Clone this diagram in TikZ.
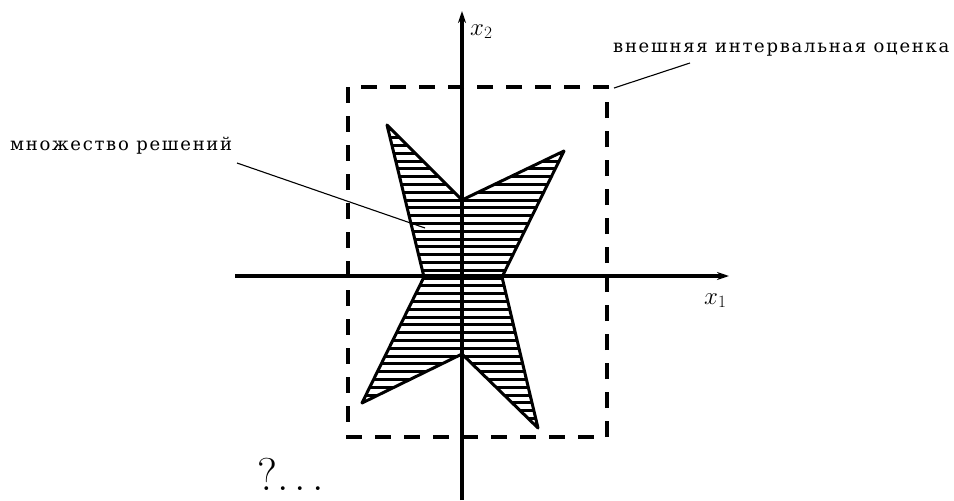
\documentclass[tikz,border=0pt]{standalone}
\usepackage{fontspec}
\newfontfamily\cyr[LetterSpace=9.5]{DejaVu Serif}
\usetikzlibrary{arrows.meta}
\begin{document}
\begin{tikzpicture}[x=1pt,y=-1pt,
  axisline/.style={line width=3.2pt,-{Stealth[length=12pt,width=8pt]}},
  boxline/.style={line width=3.2pt,dash pattern=on 16pt off 13pt},
  outline/.style={line width=3pt,line join=round},
  hatchline/.style={line width=3pt},
  leader/.style={line width=1.1pt},
  cyrlabel/.style={font=\cyr\fontsize{18}{22}\selectfont,inner sep=0pt,anchor=base west},
  mathlabel/.style={font=\fontsize{24}{28}\selectfont,inner sep=0pt,anchor=base west}]
\useasboundingbox (0,0) rectangle (954,501);
% axes
\coordinate (xs) at (235,276);
\coordinate (xe) at (729,276);
\coordinate (ys) at (462,500);
\coordinate (ye) at (462,11);
\draw[axisline] (xs) -- (xe);
\draw[axisline] (ys) -- (ye);
% polygon vertices
\coordinate (A) at (387,125);
\coordinate (B) at (462,200);
\coordinate (C) at (564,151);
\coordinate (D) at (502,277);
\coordinate (E) at (538,428);
\coordinate (F) at (462,354);
\coordinate (G) at (362,403);
\coordinate (H) at (424,277);
\begin{scope}
  \clip (A) -- (B) -- (C) -- (D) -- (E) -- (F) -- (G) -- (H) -- cycle;
  \foreach \yy in {122,129.8,...,440} \draw[hatchline] (340,\yy) -- (600,\yy);
\end{scope}
\draw[outline] (A) -- (B) -- (C) -- (D) -- (E) -- (F) -- (G) -- (H) -- cycle;
\draw[line width=3.2pt] (462,150) -- (462,400);
% outer interval box
\coordinate (bl) at (348,87);
\coordinate (tr) at (607,437);
\draw[boxline] (bl) rectangle (tr);
% labels
\node[mathlabel] (x2lbl) at (470,35) {$x_2$};
\node[mathlabel] (x1lbl) at (704,304) {$x_1$};
\node[cyrlabel] (setlbl) at (10,150) {множество решений};
\node[cyrlabel] (boxlbl) at (613,52) {внешняя интервальная оценка};
\node[font=\fontsize{46}{50}\selectfont,inner sep=0pt,anchor=base west] (q) at (257,490) {?.\kern6pt.\kern6pt.};
% leaders
\coordinate (setend) at (425,228);
\coordinate (setstart) at (237,163);
\coordinate (boxstart) at (690,63);
\coordinate (boxend) at (614,88);
\draw[leader] (setstart) -- (setend);
\draw[leader] (boxstart) -- (boxend);
\end{tikzpicture}
\end{document}
